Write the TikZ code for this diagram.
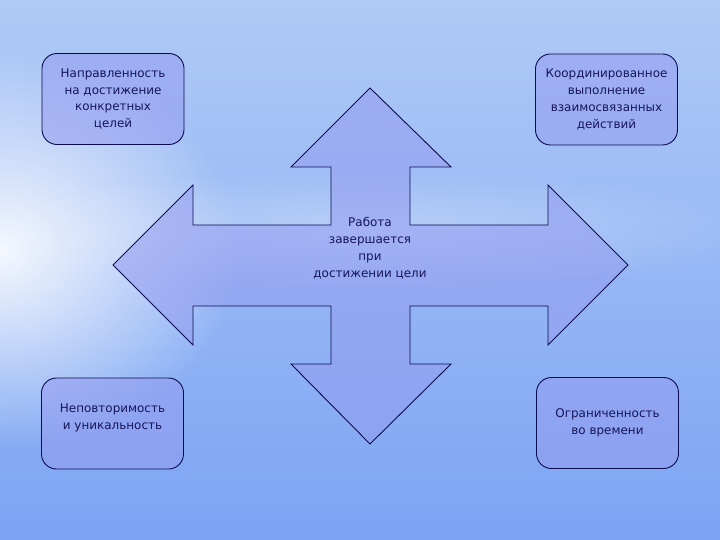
\documentclass[tikz,border=0pt]{standalone}
\usepackage{fontspec}
\setmainfont{DejaVu Sans}
\usepackage{tikz}
\usetikzlibrary{positioning,fadings}

\definecolor{skytop}{RGB}{176,202,246}
\definecolor{skymid}{RGB}{198,216,248}
\definecolor{seabot}{RGB}{124,164,244}
\definecolor{shapefill}{RGB}{148,156,240}
\definecolor{edgeblue}{RGB}{12,12,80}
\definecolor{textblue}{RGB}{22,22,90}

\tikzfading[name=glow, inner color=transparent!0, outer color=transparent!100]

\begin{document}
\begin{tikzpicture}[x=1bp, y=-1bp,
		basic/.style  = {draw=edgeblue, line width=0.9bp, fill=shapefill, fill opacity=0.55, text opacity=1, text=textblue},
		box/.style    = {basic, rectangle, rounded corners=15bp, minimum width=142bp, minimum height=91bp, align=center, font=\fontsize{12}{17}\selectfont},
		cross/.style  = {basic, line join=miter},
		centre/.style = {align=center, text=textblue, font=\fontsize{12}{17}\selectfont}]
	
	% background: sky and sea
	\useasboundingbox (0,0) rectangle (720,540);
	\shade[top color=skytop, middle color=skymid, bottom color=seabot] (0,0) rectangle (720,540);
	\fill[white, opacity=0.9, path fading=glow] (0,250) ellipse (240 and 200);
	\fill[white, opacity=0.3, path fading=glow] (360,230) ellipse (420 and 60);
	
	% the four-way arrow
	\draw[cross] (370,88) -- (451,167) -- (410,167) -- (410,225) -- (548,225) -- (548,185)
		-- (628,265) -- (548,345) -- (548,306) -- (410,306) -- (410,364) -- (451,364)
		-- (370,444) -- (291,364) -- (331,364) -- (331,306) -- (193,306) -- (193,345)
		-- (113,265) -- (193,185) -- (193,225) -- (331,225) -- (331,167) -- (291,167) -- cycle;
	\node[centre] (goal) at (370,248) {Работа\\завершается\\при\\достижении цели};
	
	% corner boxes
	\node[box] (aim)    at (113,99)    {Направленность\\на достижение\\конкретных\\целей};
	\node[box] (coord)  at (606.5,99.5) {Координированное\\выполнение\\взаимосвязанных\\действий};
	\node[box, text depth=14bp] (unique) at (112.5,423.5) {Неповторимость\\и уникальность};
	\node[box] (time)   at (607.5,423) {Ограниченность\\во времени};
	
\end{tikzpicture}
\end{document}
